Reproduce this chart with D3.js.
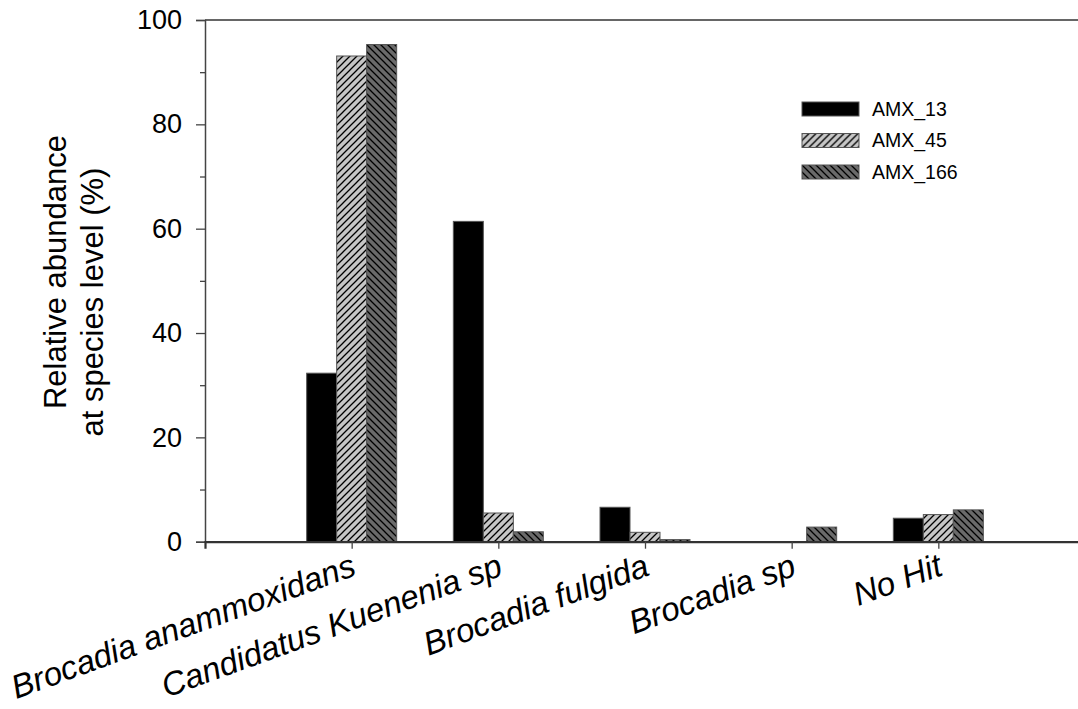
<!DOCTYPE html>
<html>
<head>
<meta charset="utf-8">
<script src="https://cdn.jsdelivr.net/npm/d3@7"></script>
<style>
  html, body { margin: 0; padding: 0; background: #fff; }
  svg { display: block; font-family: Arial, "Liberation Sans", sans-serif; }
</style>
</head>
<body>
<svg id="chart" width="1078" height="709"></svg>
<script>
// Species-level relative abundance for three anammox samples
const categories = ["Brocadia anammoxidans", "Candidatus Kuenenia sp", "Brocadia fulgida", "Brocadia sp", "No Hit"];
const seriesNames = ["AMX_13", "AMX_45", "AMX_166"];
const amx13  = [32.3, 61.4, 6.6, 0.0, 4.5];
const amx45  = [93.1, 5.5, 1.8, 0.0, 5.2];
const amx166 = [95.3, 1.9, 0.4, 2.8, 6.1];
const yTicks = [0, 20, 40, 60, 80, 100];
const yMinorTicks = [10, 30, 50, 70, 90];

const seriesValues = [amx13, amx45, amx166];

const svg = d3.select("#chart");

// Plot frame: categories sit at positions 1..5 on a 0..6 axis
const x = d3.scaleLinear().domain([0, 6]).range([205, 1085]);
const y = d3.scaleLinear().domain([0, 100]).range([541.7, 20]);
const offset = d3.scaleBand().domain(seriesNames).range([-45, 45]).padding(0);

// Fill patterns
const defs = svg.append("defs");
const p45 = defs.append("pattern").attr("id", "hatchUp")
  .attr("patternUnits", "userSpaceOnUse").attr("width", 7).attr("height", 7);
p45.append("rect").attr("width", 7).attr("height", 7).attr("fill", "#c6c6c6");
p45.append("path").attr("d", "M-1,1 L1,-1 M0,7 L7,0 M6,8 L8,6")
  .attr("stroke", "#000").attr("stroke-width", 1.3);

const p166 = defs.append("pattern").attr("id", "hatchDown")
  .attr("patternUnits", "userSpaceOnUse").attr("width", 7).attr("height", 7);
p166.append("rect").attr("width", 7).attr("height", 7).attr("fill", "#6a6a6a");
p166.append("path").attr("d", "M-1,6 L1,8 M0,0 L7,7 M6,-1 L8,1")
  .attr("stroke", "#000").attr("stroke-width", 1.3);

const fills = { "AMX_13": "#000", "AMX_45": "url(#hatchUp)", "AMX_166": "url(#hatchDown)" };

// Bars
const data = [];
seriesNames.forEach((s, si) => {
  categories.forEach((c, ci) => {
    data.push({ series: s, cat: ci, value: seriesValues[si][ci] });
  });
});

svg.append("g").selectAll("rect")
  .data(data.filter(d => d.value > 0))
  .join("rect")
  .attr("x", d => x(d.cat + 1) + offset(d.series))
  .attr("y", d => y(d.value))
  .attr("width", offset.bandwidth())
  .attr("height", d => y(0) - y(d.value))
  .attr("fill", d => fills[d.series])
  .attr("stroke", "#555")
  .attr("stroke-width", 1);

// Top frame line
svg.append("line")
  .attr("x1", x(0)).attr("x2", x(6))
  .attr("y1", y(100)).attr("y2", y(100))
  .attr("stroke", "#333").attr("stroke-width", 1.5);

// Y axis
const yAxis = svg.append("g").attr("transform", `translate(${x(0)},0)`)
  .call(d3.axisLeft(y).tickValues(yTicks).tickSize(9).tickPadding(14).tickFormat(d3.format("d")));
yAxis.select(".domain").attr("stroke", "#444").attr("stroke-width", 1.5);
yAxis.selectAll(".tick line").attr("stroke", "#444").attr("stroke-width", 1.3);
yAxis.selectAll(".tick text").attr("font-size", 27).attr("fill", "#000")
  .attr("font-family", "Arial, 'Liberation Sans', sans-serif");

const yMinor = svg.append("g").attr("transform", `translate(${x(0)},0)`)
  .call(d3.axisLeft(y).tickValues(yMinorTicks).tickSize(5).tickFormat(""));
yMinor.select(".domain").remove();
yMinor.selectAll(".tick line").attr("stroke", "#444").attr("stroke-width", 1.3);

// X axis
const xAxis = svg.append("g").attr("transform", `translate(0,${y(0)})`)
  .call(d3.axisBottom(x).tickValues(d3.range(1, categories.length + 1)).tickSize(7).tickFormat(""));
xAxis.select(".domain").attr("stroke", "#333").attr("stroke-width", 2.2);
xAxis.selectAll(".tick line").attr("stroke", "#444").attr("stroke-width", 1.3);

// Category labels, italic and slanted
svg.append("g").selectAll("text")
  .data(categories)
  .join("text")
  .attr("transform", (d, i) => `translate(${x(i + 1) + 6},${y(0) + 33}) rotate(-20)`)
  .attr("text-anchor", "end")
  .attr("font-style", "italic")
  .attr("font-size", 33)
  .attr("fill", "#000")
  .text(d => d);

// Y axis title
const yTitle = svg.append("g");
yTitle.append("text")
  .attr("transform", "translate(66,272) rotate(-90)")
  .attr("text-anchor", "middle")
  .attr("font-size", 31)
  .text("Relative abundance");
yTitle.append("text")
  .attr("transform", "translate(103,302) rotate(-90)")
  .attr("text-anchor", "middle")
  .attr("font-size", 31)
  .text("at species level (%)");

// Legend
const legend = svg.append("g").selectAll("g")
  .data(seriesNames)
  .join("g")
  .attr("transform", (d, i) => `translate(802,${109 + i * 31.5})`);
legend.append("rect")
  .attr("x", 0).attr("y", -7).attr("width", 57).attr("height", 14)
  .attr("fill", d => fills[d])
  .attr("stroke", "#555").attr("stroke-width", 1);
legend.append("text")
  .attr("x", 70).attr("y", 0).attr("dy", "0.35em")
  .attr("font-size", 19.5)
  .text(d => d);
</script>
</body>
</html>
